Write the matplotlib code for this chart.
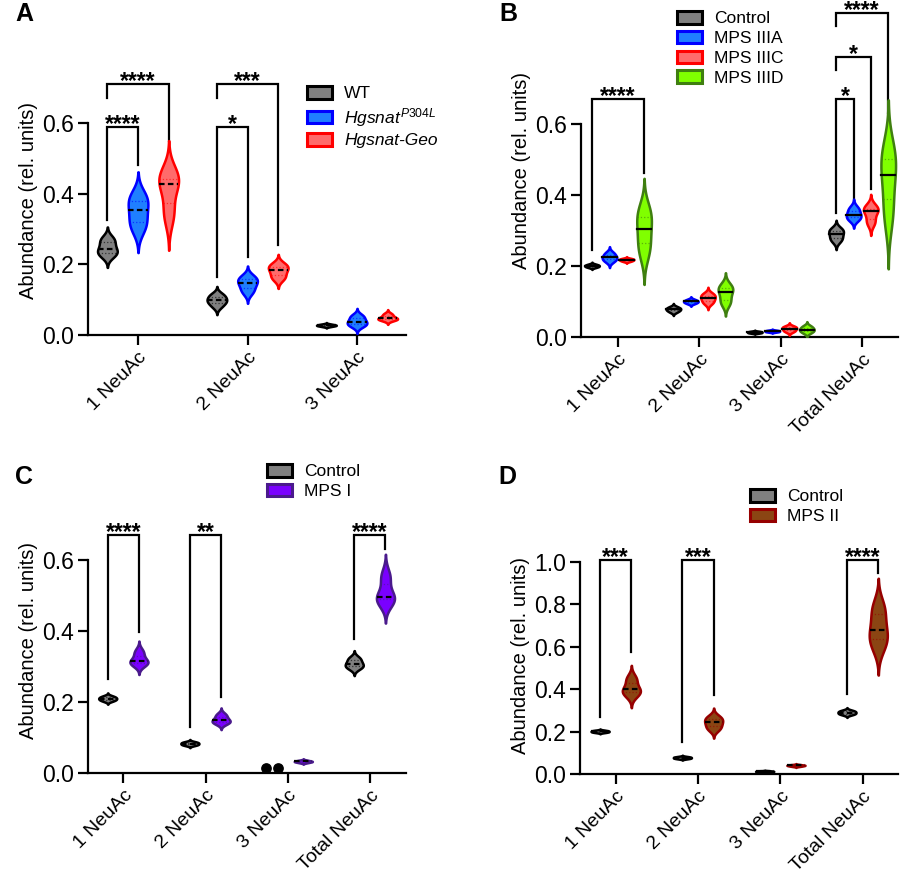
import numpy as np
import matplotlib
matplotlib.use("Agg")
import matplotlib.pyplot as plt
from matplotlib.patches import Patch

plt.rcParams['font.family'] = ['Liberation Sans', 'DejaVu Sans']
plt.rcParams['mathtext.fontset'] = 'custom'
plt.rcParams['mathtext.it'] = 'Liberation Sans:italic'
plt.rcParams['mathtext.rm'] = 'Liberation Sans'

# ---- data ----
cats3 = ['1 NeuAc', '2 NeuAc', '3 NeuAc']
cats4 = ['1 NeuAc', '2 NeuAc', '3 NeuAc', 'Total NeuAc']

# panel A
a_groups = ['WT', r'$\mathit{Hgsnat}^{\mathit{P304L}}$', 'Hgsnat-Geo']
a_wt = [[0.225, 0.232, 0.238, 0.25, 0.268, 0.272],
        [0.08, 0.09, 0.097, 0.10, 0.11, 0.115],
        [0.024, 0.026, 0.027, 0.028, 0.029, 0.031]]
a_p304l = [[0.30, 0.315, 0.34, 0.365, 0.385, 0.395],
           [0.12, 0.13, 0.145, 0.15, 0.16, 0.165],
           [0.025, 0.03, 0.035, 0.04, 0.05, 0.055]]
a_geo = [[0.33, 0.36, 0.42, 0.435, 0.445, 0.46],
         [0.16, 0.165, 0.18, 0.188, 0.195, 0.2],
         [0.042, 0.045, 0.046, 0.048, 0.055, 0.06]]

# panel B
b_groups = ['Control', 'MPS IIIA', 'MPS IIIC', 'MPS IIID']
b_ctrl = [[0.196, 0.198, 0.2, 0.201, 0.203, 0.205],
          [0.07, 0.074, 0.077, 0.079, 0.082, 0.085],
          [0.011, 0.012, 0.013, 0.014, 0.015, 0.016],
          [0.27, 0.277, 0.285, 0.295, 0.3, 0.305]]
b_3a = [[0.212, 0.218, 0.222, 0.226, 0.232, 0.238],
        [0.094, 0.097, 0.099, 0.101, 0.103, 0.106],
        [0.014, 0.015, 0.016, 0.017, 0.018, 0.019],
        [0.33, 0.335, 0.342, 0.348, 0.358, 0.365]]
b_3c = [[0.213, 0.215, 0.217, 0.218, 0.22, 0.221],
        [0.095, 0.1, 0.108, 0.112, 0.118, 0.122],
        [0.015, 0.018, 0.022, 0.025, 0.028, 0.03],
        [0.32, 0.328, 0.35, 0.358, 0.362, 0.368]]
b_3d = [[0.235, 0.255, 0.29, 0.32, 0.345, 0.36],
        [0.095, 0.1, 0.12, 0.133, 0.138, 0.145],
        [0.012, 0.016, 0.02, 0.022, 0.027, 0.031],
        [0.33, 0.37, 0.44, 0.475, 0.51, 0.53]]

# panel C
c_groups = ['Control', 'MPS I']
c_ctrl = [[0.203, 0.206, 0.209, 0.211, 0.214, 0.217],
          [0.078, 0.08, 0.082, 0.084, 0.086, 0.088],
          [0.015, 0.015, 0.015, 0.015, 0.015, 0.015],
          [0.295, 0.3, 0.305, 0.31, 0.32, 0.325]]
c_mps1 = [[0.305, 0.31, 0.314, 0.318, 0.335, 0.345],
          [0.14, 0.143, 0.147, 0.151, 0.16, 0.166],
          [0.029, 0.031, 0.032, 0.033, 0.034, 0.036],
          [0.48, 0.49, 0.495, 0.5, 0.545, 0.56]]

# panel D
d_groups = ['Control', 'MPS II']
d_ctrl = [[0.196, 0.198, 0.2, 0.202, 0.204, 0.206],
          [0.072, 0.074, 0.076, 0.078, 0.08, 0.082],
          [0.01, 0.011, 0.012, 0.013, 0.014, 0.015],
          [0.28, 0.284, 0.288, 0.292, 0.296, 0.3]]
d_mps2 = [[0.37, 0.385, 0.395, 0.403, 0.44, 0.455],
          [0.21, 0.22, 0.238, 0.248, 0.262, 0.27],
          [0.036, 0.038, 0.04, 0.041, 0.042, 0.044],
          [0.6, 0.63, 0.66, 0.7, 0.77, 0.79]]

# significance brackets: (category, group1, group2, top, leg1 bottom, leg2 bottom, stars)
a_sig = [(0, 0, 1, 0.59, 0.325, 0.48, '****'), (0, 0, 2, 0.71, 0.67, 0.55, '****'),
         (1, 0, 1, 0.59, 0.165, 0.22, '*'), (1, 0, 2, 0.71, 0.67, 0.255, '***')]
b_sig = [(0, 0, 3, 0.671, 0.245, 0.461, '****'), (3, 0, 1, 0.671, 0.348, 0.376, '*'),
         (3, 0, 2, 0.79, 0.752, 0.416, '*'), (3, 0, 3, 0.912, 0.875, 0.63, '****')]
c_sig = [(0, 0, 1, 0.671, 0.266, 0.398, '****'), (1, 0, 1, 0.671, 0.13, 0.214, '**'),
         (3, 0, 1, 0.671, 0.379, 0.633, '****')]
d_sig = [(0, 0, 1, 1.009, 0.269, 0.574, '***'), (1, 0, 1, 1.009, 0.149, 0.374, '***'),
         (3, 0, 1, 1.009, 0.379, 0.947, '****')]

# colours (edge, fill)
c_black = ('#000000', '#808080')
c_blue = ('#0000ff', '#1f7fff')
c_red = ('#ff0000', '#ff6b6b')
c_green = ('#3f7f10', '#80ff00')
c_purple = ('#4a1a8c', '#7a00ff')
c_brown = ('#960000', '#8b4513')


def kde(vals, cut=2.5):
    v = np.asarray(vals, float)
    bw = v.std(ddof=1) * len(v) ** (-0.2)
    y = np.linspace(v.min() - cut * bw, v.max() + cut * bw, 300)
    d = np.exp(-0.5 * ((y[:, None] - v[None, :]) / bw) ** 2).sum(1)
    return y, d / d.max()


def violin(ax, x, vals, col, hw, solid_med=False):
    v = np.asarray(vals, float)
    if v.std() == 0:
        ax.scatter([x - 0.07, x + 0.07], [v[0], v[0]], s=45, color=col[0], zorder=3)
        return
    y, d = kde(v)
    ax.fill_betweenx(y, x - d * hw, x + d * hw, facecolor=col[1], edgecolor=col[0],
                     lw=1.8, zorder=3)
    q1, med, q3 = np.percentile(v, [25, 50, 75])
    for q in (q1, q3):
        w = np.interp(q, y, d) * hw
        ax.plot([x - w, x + w], [q, q], ls=':', lw=0.9, color=col[0], alpha=0.6, zorder=4)
    w = np.interp(med, y, d) * hw
    ax.plot([x - w, x + w], [med, med], ls='-' if solid_med else (0, (2.5, 1.5)),
            lw=1.6, color='black', zorder=4)


def bracket(ax, xs, sig):
    for ci, g1, g2, top, b1, b2, txt in sig:
        x1, x2 = ci + xs[g1], ci + xs[g2]
        ax.plot([x1, x1, x2, x2], [b1, top, top, b2], color='black', lw=1.6,
                clip_on=False, solid_joinstyle='miter')
        ax.annotate(txt, ((x1 + x2) / 2, top), xytext=(0, -3), textcoords='offset points',
                    ha='center', va='baseline', fontsize=16.5, fontweight='bold',
                    annotation_clip=False)


def style(ax, cats, xlim, ylim, yticks):
    ax.set_xlim(*xlim)
    ax.set_ylim(*ylim)
    for s in ('top', 'right'):
        ax.spines[s].set_visible(False)
    ax.spines['left'].set_bounds(yticks[0], yticks[-1])
    ax.spines['left'].set_linewidth(1.6)
    ax.spines['bottom'].set_linewidth(1.6)
    ax.set_yticks(yticks)
    ax.set_yticklabels(['%.1f' % t for t in yticks], fontsize=16.5)
    ax.set_xticks(range(len(cats)))
    ax.set_xticklabels(cats, rotation=45, ha='right', va='top', rotation_mode='anchor',
                       fontsize=14)
    ax.tick_params(axis='both', length=7, width=1.6)
    ax.tick_params(axis='y', pad=3)
    ax.tick_params(axis='x', pad=3)
    ax.set_ylabel('Abundance (rel. units)', fontsize=14.5, labelpad=3)


def legend(ax, names, cols, x, y):
    handles = [Patch(facecolor=c[1], edgecolor=c[0], lw=2.2) for c in cols]
    leg = ax.legend(handles, names, loc='upper left', bbox_to_anchor=(x / 900, 1 - y / 880),
                    bbox_transform=fig.transFigure, frameon=False, fontsize=12.5,
                    handlelength=1.45, handleheight=0.75, handletextpad=0.7,
                    labelspacing=0.25, borderpad=0, borderaxespad=0)
    return leg


fig = plt.figure(figsize=(9, 8.8), dpi=100)

# ---- A ----
axA = fig.add_axes([88 / 900, 1 - 335 / 880, 318 / 900, 0.76 * 353.3 / 880])
xsA = [-0.28, 0.0, 0.28]
for gi, (grp, col) in enumerate(zip([a_wt, a_p304l, a_geo], [c_black, c_blue, c_red])):
    for ci, vals in enumerate(grp):
        violin(axA, ci + xsA[gi], vals, col, 0.09)
style(axA, cats3, (-0.457, 2.447), (0, 0.76), [0.0, 0.2, 0.4, 0.6])
bracket(axA, xsA, a_sig)
legA = legend(axA, a_groups, [c_black, c_blue, c_red], 307, 86)
legA.get_texts()[2].set_style('italic')

# ---- B ----
axB = fig.add_axes([581 / 900, 1 - 337 / 880, 317 / 900, 0.94 * 355 / 880])
xsB = [-0.32, -0.105, 0.105, 0.32]
for gi, (grp, col) in enumerate(zip([b_ctrl, b_3a, b_3c, b_3d], [c_black, c_blue, c_red, c_green])):
    for ci, vals in enumerate(grp):
        violin(axB, ci + xsB[gi], vals, col, 0.09, solid_med=True)
style(axB, cats4, (-0.455, 3.44), (0, 0.94), [0.0, 0.2, 0.4, 0.6])
bracket(axB, xsB, b_sig)
legend(axB, b_groups, [c_black, c_blue, c_red, c_green], 677, 11)

# ---- C ----
axC = fig.add_axes([88 / 900, 1 - 773 / 880, 318 / 900, 0.75 * 354.5 / 880])
xsC = [-0.19, 0.19]
for gi, (grp, col) in enumerate(zip([c_ctrl, c_mps1], [c_black, c_purple])):
    for ci, vals in enumerate(grp):
        violin(axC, ci + xsC[gi], vals, col, 0.11)
style(axC, cats4, (-0.43, 3.44), (0, 0.75), [0.0, 0.2, 0.4, 0.6])
bracket(axC, xsC, c_sig)
legend(axC, c_groups, [c_black, c_purple], 267, 464)

# ---- D ----
axD = fig.add_axes([580 / 900, 1 - 774 / 880, 318 / 900, 1.12 * 212 / 880])
xsD = [-0.19, 0.19]
for gi, (grp, col) in enumerate(zip([d_ctrl, d_mps2], [c_black, c_brown])):
    for ci, vals in enumerate(grp):
        violin(axD, ci + xsD[gi], vals, col, 0.11)
style(axD, cats4, (-0.434, 3.43), (0, 1.12), [0.0, 0.2, 0.4, 0.6, 0.8, 1.0])
bracket(axD, xsD, d_sig)
legend(axD, d_groups, [c_black, c_brown], 750, 489)

for lab, x, y in [('A', 15, 2), ('B', 499, 2), ('C', 15, 465), ('D', 498, 465)]:
    fig.text(x / 900, 1 - y / 880, lab, fontsize=18, fontweight='bold', va='top', ha='left')

fig.savefig('out.png', dpi=100)
